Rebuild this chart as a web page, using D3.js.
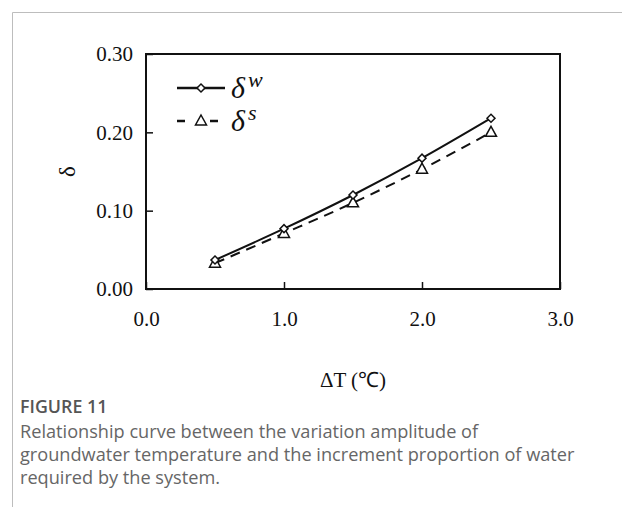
<!DOCTYPE html>
<html>
<head>
<meta charset="utf-8">
<script src="https://cdn.jsdelivr.net/npm/d3@7"></script>
<style>
  html, body { margin: 0; padding: 0; background: #fff; }
  svg { display: block; }
</style>
</head>
<body>
<script>
// Temperature change ΔT (°C) and the two increment proportions
const deltaT = [0.5, 1.0, 1.5, 2.0, 2.5];
const deltaW = [0.037, 0.077, 0.120, 0.167, 0.218];
const deltaS = [0.033, 0.071, 0.110, 0.153, 0.200];
const xTicks = [0, 1, 2, 3];
const yTicks = [0, 0.1, 0.2, 0.3];
const captionTitle = "FIGURE 11";
const captionLines = [
  "Relationship curve between the variation amplitude of",
  "groundwater temperature and the increment proportion of water",
  "required by the system."
];

const W = 622, H = 507;
const svg = d3.select("body").append("svg").attr("width", W).attr("height", H);

// card frame (left and top rules)
svg.append("path")
  .attr("d", `M12.5,${H} V12.5 H${W}`)
  .attr("fill", "none").attr("stroke", "#bdbdbd").attr("stroke-width", 1);

const pLeft = 146, pRight = 560, pTop = 54, pBottom = 289;
const x = d3.scaleLinear().domain([0, 3]).range([pLeft, pRight]);
const y = d3.scaleLinear().domain([0, 0.3]).range([pBottom, pTop]);

const serif = "'Liberation Serif', 'Times New Roman', serif";

// plot frame
svg.append("rect")
  .attr("x", pLeft).attr("y", pTop)
  .attr("width", pRight - pLeft).attr("height", pBottom - pTop)
  .attr("fill", "none").attr("stroke", "#111").attr("stroke-width", 2);

// axes with inward ticks
const xAxis = svg.append("g").attr("transform", `translate(0,${pBottom})`)
  .call(d3.axisBottom(x).tickValues(xTicks).tickFormat(d3.format(".1f"))
        .tickSize(-7).tickPadding(22));
const yAxis = svg.append("g").attr("transform", `translate(${pLeft},0)`)
  .call(d3.axisLeft(y).tickValues(yTicks).tickFormat(d3.format(".2f"))
        .tickSize(-7).tickPadding(13));
[xAxis, yAxis].forEach(g => {
  g.select(".domain").remove();
  g.selectAll(".tick line").attr("stroke", "#111").attr("stroke-width", 1.5);
  g.selectAll(".tick text").attr("fill", "#111")
    .style("font-family", serif).style("font-size", "21px");
});
xAxis.selectAll(".tick text").attr("dy", "0.71em");

// axis titles
svg.append("text")
  .attr("x", (pLeft + pRight) / 2).attr("y", 387)
  .attr("text-anchor", "middle")
  .style("font-family", serif).style("font-size", "21px").attr("fill", "#111")
  .text("ΔT (℃)");
svg.append("text")
  .attr("transform", `translate(75,${(pTop + pBottom) / 2}) rotate(-90)`)
  .attr("text-anchor", "middle")
  .style("font-family", serif).style("font-size", "23px").attr("fill", "#111")
  .text("δ");

const line = d3.line().x(d => x(d[0])).y(d => y(d[1])).curve(d3.curveMonotoneX);
const ptsW = deltaT.map((t, i) => [t, deltaW[i]]);
const ptsS = deltaT.map((t, i) => [t, deltaS[i]]);

const diamond = d3.symbol().type(d3.symbolSquare).size(32)();
const triangle = "M0,-6 L5.5,4 L-5.5,4 Z";

// δ^s series: dashed with triangles
svg.append("path").datum(ptsS).attr("d", line)
  .attr("fill", "none").attr("stroke", "#111").attr("stroke-width", 2)
  .attr("stroke-dasharray", "10,7");
svg.selectAll(".tri").data(ptsS).enter().append("path")
  .attr("class", "tri")
  .attr("transform", d => `translate(${x(d[0])},${y(d[1])})`)
  .attr("d", triangle)
  .attr("fill", "#fff").attr("stroke", "#111").attr("stroke-width", 1.5);

// δ^w series: solid with diamonds
svg.append("path").datum(ptsW).attr("d", line)
  .attr("fill", "none").attr("stroke", "#111").attr("stroke-width", 2);
svg.selectAll(".dia").data(ptsW).enter().append("path")
  .attr("class", "dia")
  .attr("transform", d => `translate(${x(d[0])},${y(d[1])}) rotate(45)`)
  .attr("d", diamond)
  .attr("fill", "#fff").attr("stroke", "#111").attr("stroke-width", 1.5);

// legend
const lg = svg.append("g");
lg.append("line").attr("x1", 177).attr("x2", 225).attr("y1", 88).attr("y2", 88)
  .attr("stroke", "#111").attr("stroke-width", 2.5);
lg.append("path").attr("transform", "translate(201,88) rotate(45)").attr("d", diamond)
  .attr("fill", "#fff").attr("stroke", "#111").attr("stroke-width", 1.5);
lg.append("line").attr("x1", 177).attr("x2", 225).attr("y1", 121).attr("y2", 121)
  .attr("stroke", "#111").attr("stroke-width", 2.5).attr("stroke-dasharray", "8,7,0,18,8");
lg.append("path").attr("transform", "translate(201,121)").attr("d", triangle)
  .attr("fill", "#fff").attr("stroke", "#111").attr("stroke-width", 1.5);

const legendLabel = (yy, sup) => {
  const t = lg.append("text").attr("x", 231).attr("y", yy)
    .style("font-family", serif).style("font-style", "italic")
    .attr("fill", "#111");
  t.append("tspan").style("font-size", "30px").text("δ");
  t.append("tspan").attr("dx", 3).attr("dy", -11).style("font-size", "22px").text(sup);
};
legendLabel(98, "w");
legendLabel(131, "s");

// caption, sized so the longest line spans the card text width
const sans = "'Open Sans', 'Noto Sans', sans-serif";
const capX = 20, capWidth = 555;
const title = svg.append("text").attr("x", capX).attr("y", 413)
  .style("font-family", sans).style("font-size", "16px").style("font-weight", "600")
  .attr("fill", "#555").text(captionTitle);
const capText = svg.append("g").selectAll("text").data(captionLines).enter().append("text")
  .attr("x", capX).attr("y", (d, i) => 438 + i * 23)
  .style("font-family", sans).style("font-size", "16px")
  .attr("fill", "#666").text(d => d);
const widest = d3.max(capText.nodes(), n => n.getComputedTextLength());
const capSize = 16 * capWidth / widest;
capText.style("font-size", capSize + "px");
title.style("font-size", (capSize * 0.98) + "px");
</script>
</body>
</html>
